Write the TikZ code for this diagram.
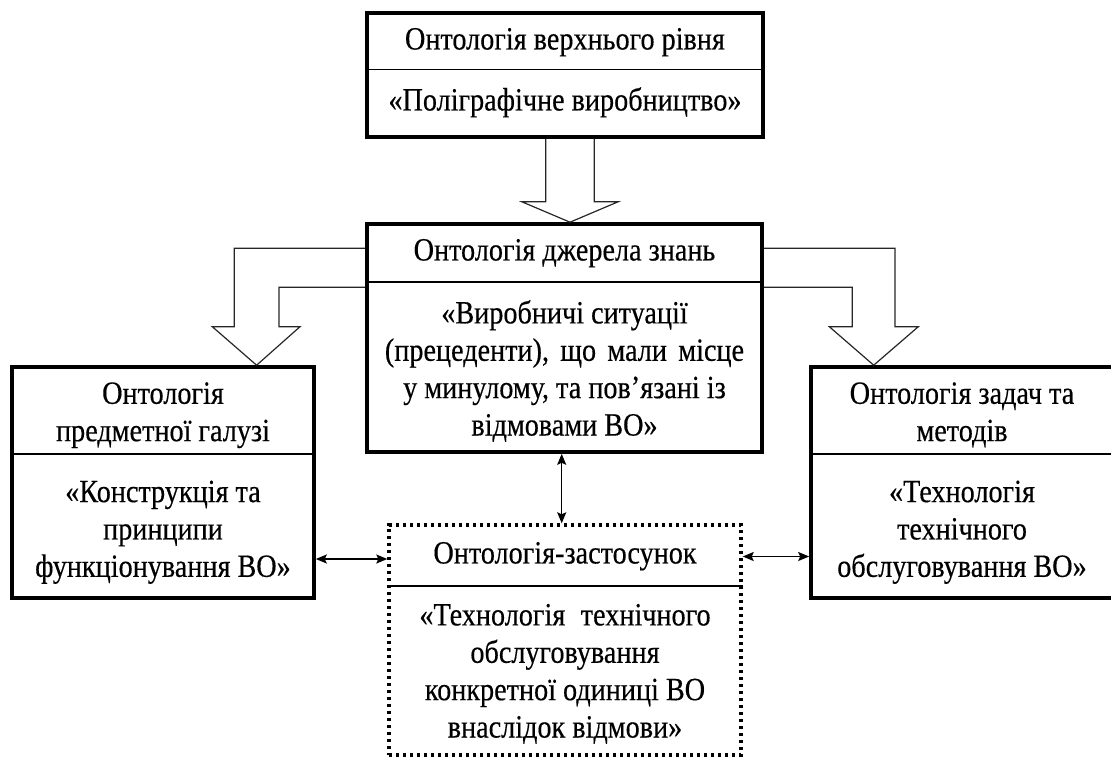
\documentclass[tikz,border=0pt]{standalone}
\usepackage{fontspec}
\setmainfont{Liberation Serif}[FakeBold=0.4]
\usetikzlibrary{arrows.meta,calc}
% centred block of lines, set slightly taller than wide
\newcommand\stk[1]{\scalebox{1}[1.15]{\begin{tabular}{@{}c@{}}#1\end{tabular}}}
\begin{document}
\begin{tikzpicture}[x=1pt,y=-1pt,
  box/.style={draw, line width=3.6pt, rectangle, inner sep=0pt},
  appbox/.style={draw, line width=3.4pt, dash pattern=on 3.4pt off 3.6pt, rectangle, inner sep=0pt},
  divider/.style={line width=1.3pt},
  hollow/.style={draw=black!85, line width=1.2pt, line join=miter},
  link/.style={line width=1.3pt, {Stealth[length=11pt,width=9pt,inset=2pt]}-{Stealth[length=11pt,width=9pt,inset=2pt]}},
  lbl/.style={inner sep=0pt, font=\fontsize{28.2}{32.5}\selectfont}]
\useasboundingbox (0,0) rectangle (1111,760);

% ontology boxes
\node[box, minimum width=396pt, minimum height=124pt] (top) at (565,75) {};
\node[box, minimum width=395pt, minimum height=228pt] (mid) at (564.5,338) {};
\node[box, minimum width=302pt, minimum height=231pt] (left) at (163,482.5) {};
\node[box, minimum width=302pt, minimum height=231pt] (right) at (962,482.5) {};
\node[appbox, minimum width=352pt, minimum height=230pt] (app) at (565,640) {};

% header / body separators
\draw[divider] (top.west |- 0,69.5) -- (top.east |- 0,69.5);
\draw[divider] (mid.west |- 0,282) -- (mid.east |- 0,282);
\draw[divider] (left.west |- 0,454) -- (left.east |- 0,454);
\draw[divider] (right.west |- 0,454) -- (right.east |- 0,454);
\draw[divider] (app.west |- 0,586) -- (app.east |- 0,586);

% labels
\node[lbl] (topH) at (565,42) {\stk{Онтологія верхнього рівня}};
\node[lbl] (topB) at (565,103) {\stk{«Поліграфічне виробництво»}};
\node[lbl] (midH) at (564.5,253) {\stk{Онтологія джерела знань}};
\node[lbl] (midB) at (564.5,372) {\stk{«Виробничі ситуації\\(прецеденти),\hspace{0.15em} що\hspace{0.15em} мали\hspace{0.15em} місце\\у минулому, та пов’язані із\\відмовами ВО»}};
\node[lbl] (leftH) at (163,415) {\stk{Онтологія\\предметної галузі}};
\node[lbl] (leftB) at (163,532) {\stk{«Конструкція та\\принципи\\функціонування ВО»}};
\node[lbl] (rightH) at (962,415) {\stk{Онтологія задач та\\методів}};
\node[lbl] (rightB) at (962,532) {\stk{«Технологія\\технічного\\обслуговування ВО»}};
\node[lbl] (appH) at (565,556) {\stk{Онтологія-застосунок}};
\node[lbl] (appB) at (565,674) {\stk{«Технологія\hspace{0.3em} технічного\\обслуговування\\конкретної одиниці ВО\\внаслідок відмови»}};

% hollow inheritance arrows
\draw[hollow] (545.7,0 |- top.south) -- (545.7,201.7) -- (521.7,201.7) -- (570,0 |- mid.north)
  -- (618.3,201.7) -- (594.3,201.7) -- (594.3,0 |- top.south);
\draw[hollow] (mid.west |- 0,248.3) -- (234.3,248.3) -- (234.3,326.7) -- (212.3,326.7)
  -- (256.6,0 |- left.north) -- (300,326.7) -- (279,326.7) -- (279,287.3) -- (mid.west |- 0,287.3);
\draw[hollow] (mid.east |- 0,248.3) -- (895,248.3) -- (895,326.7) -- (918.3,326.7)
  -- (873.7,0 |- right.north) -- (829.3,326.7) -- (852.3,326.7) -- (852.3,287.3) -- (mid.east |- 0,287.3);

% two-way links to the application ontology
\draw[link] (left.east |- 0,559) -- (app.west |- 0,559);
\draw[link] (app.east |- 0,556.5) -- (right.west |- 0,556.5);
\draw[link] (561.7,0 |- mid.south) -- (561.7,0 |- app.north);
\end{tikzpicture}
\end{document}
